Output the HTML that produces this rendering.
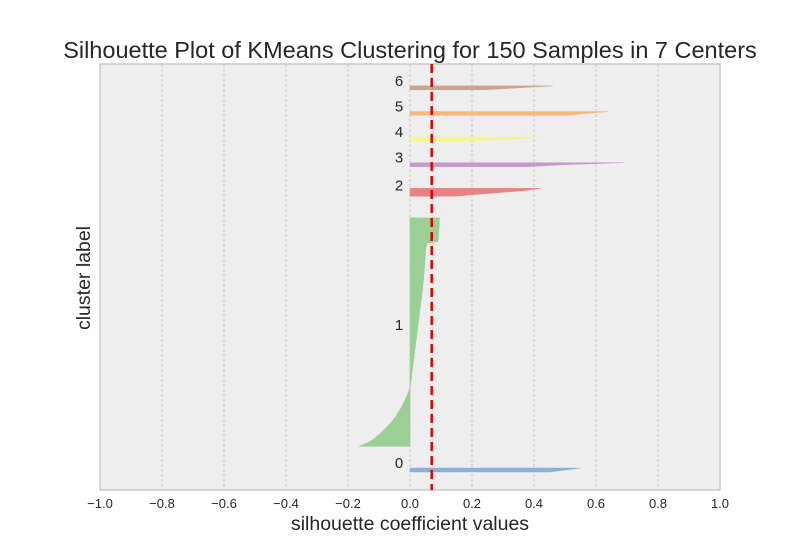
<!DOCTYPE html>
<html><head><meta charset="utf-8"><style>
body{margin:0;background:#fff;}
svg{display:block;font-family:"Liberation Sans","DejaVu Sans",sans-serif;}
</style></head><body>
<svg id="chart" width="800" height="550">
<rect x="100" y="64" width="620" height="426" fill="#eeeeee" stroke="#c8c8c8" stroke-width="1.5"/>
<g id="grid"></g><g id="marks"></g><g id="labels"></g><g id="ticks"></g>
<text x="410" y="58" text-anchor="middle" font-size="23.5" fill="#262626">Silhouette Plot of KMeans Clustering for 150 Samples in 7 Centers</text>
<text x="410" y="530" text-anchor="middle" font-size="19.5" fill="#262626">silhouette coefficient values</text>
<text x="0" y="0" transform="translate(90,278) rotate(-90)" text-anchor="middle" font-size="19.5" fill="#262626">cluster label</text>
</svg>
<script>
const clusterLabels=['0','1','2','3','4','5','6'];
const c0=[0.45,0.5,0.55];
const c1=[-0.165,-0.15,-0.135,-0.125,-0.115,-0.108,-0.1,-0.093,-0.087,-0.08,
-0.074,-0.068,-0.062,-0.057,-0.052,-0.047,-0.043,-0.039,-0.035,-0.031,
-0.027,-0.024,-0.021,-0.018,-0.015,-0.012,-0.009,-0.006,-0.004,-0.002,
0.000,0.001,0.002,0.003,0.004,0.005,0.006,0.006,0.007,0.008,
0.009,0.010,0.010,0.011,0.012,0.013,0.014,0.014,0.015,0.016,
0.017,0.018,0.018,0.019,0.020,0.021,0.022,0.022,0.023,0.024,
0.025,0.026,0.026,0.027,0.028,0.029,0.030,0.030,0.031,0.032,
0.033,0.034,0.034,0.035,0.036,0.037,0.038,0.038,0.039,0.040,
0.041,0.041,0.042,0.043,0.043,0.044,0.044,0.045,0.045,0.046,
0.046,0.047,0.047,0.048,0.048,0.049,0.049,0.050,0.050,0.050,
0.051,0.052,0.053,0.054,
0.090,0.091,0.091,0.092,0.092,0.093,0.093,0.094,0.094,0.095,0.095,0.095,0.096];
const c2=[0.15,0.22,0.3,0.38,0.42];
const c3=[0.38,0.5,0.69];
const c4=[0.17,0.33,0.45];
const c5=[0.5,0.57,0.64];
const c6=[0.24,0.35,0.46];
const clusterValues=[c0,c1,c2,c3,c4,c5,c6];
const clusterColors=['#8cb1d5','#9bcf95','#e98383','#c49ac8','#f5f58c','#f7b87b','#cca38d'];
const avgScore=0.07;
const xTicks=[-1,-0.8,-0.6,-0.4,-0.2,0,0.2,0.4,0.6,0.8,1];
const xTickLabels=['\u22121.0','\u22120.8','\u22120.6','\u22120.4','\u22120.2','0.0','0.2','0.4','0.6','0.8','1.0'];
const NS='http://www.w3.org/2000/svg';
const X=v=>100+(v+1)*310;
const Y=u=>472-(u-10)*1.97;
function mk(t,a,p){const e=document.createElementNS(NS,t);for(const k in a)e.setAttribute(k,a[k]);document.getElementById(p).appendChild(e);return e;}
xTicks.forEach((t,i)=>{
  if(i>0&&i<xTicks.length-1){const g=mk('line',{x1:X(t),x2:X(t),y1:64,y2:490,stroke:'#bdbdbd','stroke-width':0.8,'stroke-dasharray':'3,2'},'grid');
  
  }
  const tx=mk('text',{x:X(t),y:508,'text-anchor':'middle','font-size':13,fill:'#262626'},'ticks');
  tx.textContent=xTickLabels[i];
  
  
});
let yl=10;
clusterValues.forEach((vals,ci)=>{
  let pts=[X(0)+','+Y(yl)];
  vals.forEach((v,i)=>pts.push(X(v)+','+Y(yl+i)));
  pts.push(X(0)+','+Y(yl+vals.length-1));
  const p=mk('polygon',{points:pts.join(' '),fill:clusterColors[ci],stroke:clusterColors[ci],'stroke-width':0.5},'marks');
  
  
  const t=mk('text',{x:399,y:Y(yl+0.5*vals.length)-1,'text-anchor':'middle','font-size':15,fill:'#262626'},'labels');
  t.textContent=clusterLabels[ci];
  
  
  yl=yl+vals.length+10;
});
const r=mk('line',{x1:X(avgScore),x2:X(avgScore),y1:64,y2:490,stroke:'#e00000','stroke-width':2.5,'stroke-dasharray':'9,5'},'marks');


</script>
</body></html>
